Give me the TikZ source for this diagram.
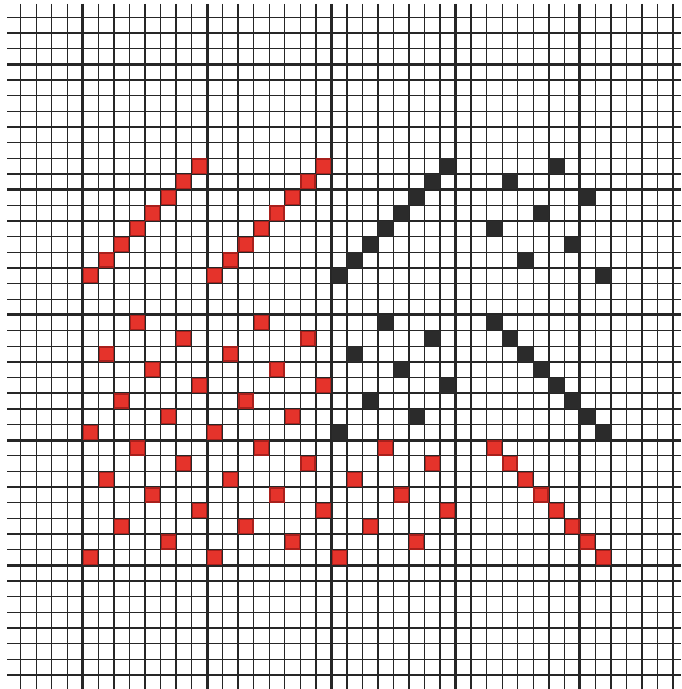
\documentclass[tikz,border=0pt]{standalone}
\usepackage{xcolor}
\definecolor{ink}{HTML}{262626}
\definecolor{cellred}{HTML}{E5332B}
\definecolor{cellredline}{HTML}{A8201C}
\definecolor{cellblack}{HTML}{2B2B2B}
\usepackage{tikz}
%% one filled square of the graph paper: style, column, row
\newcommand{\gridcell}[3]{\path[#1] (#2+0.05,#3+0.05) rectangle ++(0.9,0.9);}

\begin{document}
\begin{tikzpicture}[
      %% one unit = one cell, rows counted downwards
      x=4mm, y=-4.033mm,
      %% graph paper rulings
      minor/.style={draw=ink, line width=1.0pt},
      major/.style={draw=ink, line width=2.2pt},
      %% filled cells
      redcell/.style={fill=cellred, draw=cellredline, line width=0.9pt},
      blackcell/.style={fill=cellblack, draw=cellblack, line width=0.9pt},
    ]

    \useasboundingbox (-1.333,-1.105) rectangle (42.52,42.89);
    \fill[white] (-1.333,-1.105) rectangle (42.52,42.89);

    %% ── Rulings ─────────────────────────────────────────────────────────────
    \foreach \i in {0,...,42} {
      \draw[minor] (\i,-0.85) -- (\i,42.89);
      \draw[minor] (-0.88,\i) -- (42.52,\i);
    }
    \foreach \i in {4,12,...,36} \draw[major] (\i,-0.85) -- (\i,42.89);
    \foreach \j in {3,11,...,35} \draw[major] (-0.88,\j) -- (42.52,\j);

    %% ── Top band: rising diagonals and scattered cells ──────────────────────
    \foreach \k in {0,...,7} {
      \pgfmathtruncatemacro{\row}{9+\k}
      \pgfmathtruncatemacro{\scat}{30+mod(4+5*\k,8)}
      \gridcell{redcell}{11-\k}{\row}
      \gridcell{redcell}{19-\k}{\row}
      \gridcell{blackcell}{27-\k}{\row}
      \gridcell{blackcell}{\scat}{\row}
    }

    %% ── Middle band: knight-step pattern and falling diagonal ───────────────
    \foreach \k in {0,...,7} {
      \pgfmathtruncatemacro{\row}{19+\k}
      \pgfmathtruncatemacro{\off}{mod(3*\k+3,8)}
      \gridcell{redcell}{4+\off}{\row}
      \gridcell{redcell}{12+\off}{\row}
      \gridcell{blackcell}{20+\off}{\row}
      \gridcell{blackcell}{30+\k}{\row}
    }

    %% ── Bottom band: same pattern, all red ──────────────────────────────────
    \foreach \k in {0,...,7} {
      \pgfmathtruncatemacro{\row}{27+\k}
      \pgfmathtruncatemacro{\off}{mod(3*\k+3,8)}
      \gridcell{redcell}{4+\off}{\row}
      \gridcell{redcell}{12+\off}{\row}
      \gridcell{redcell}{20+\off}{\row}
      \gridcell{redcell}{30+\k}{\row}
    }
  \end{tikzpicture}
\end{document}
